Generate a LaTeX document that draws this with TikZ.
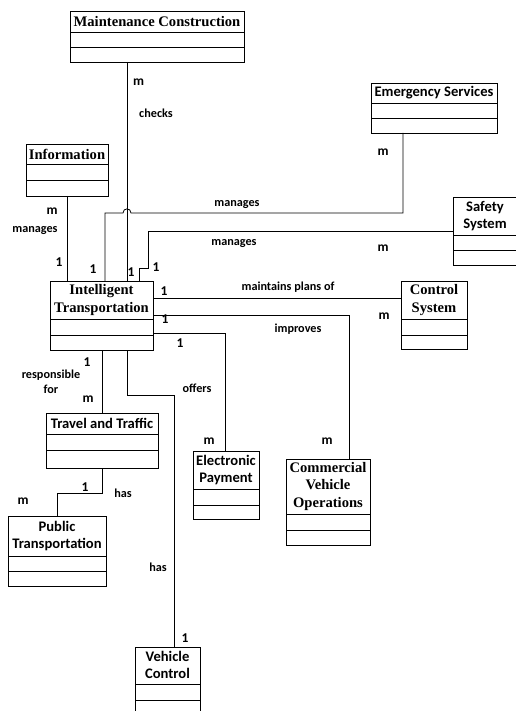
\documentclass[tikz,border=0pt]{standalone}
\usepackage{fontspec}
\setmainfont{Liberation Serif}
\newfontfamily\calfont{Carlito}
\begin{document}
\begin{tikzpicture}[x=1pt,y=-1pt,
  clsbox/.style={draw, rectangle, inner sep=0pt, outer sep=0pt, line width=0.8pt},
  divider/.style={line width=0.8pt},
  conn/.style={line width=0.8pt},
  sertitle/.style={font=\fontsize{14.6}{17.5}\selectfont\bfseries, align=center, inner sep=0pt},
  santitle/.style={font=\calfont\fontsize{14.6}{17.5}\selectfont\bfseries, align=center, inner sep=0pt},
  rel/.style={font=\calfont\fontsize{12.2}{14.5}\selectfont\bfseries, align=center, inner sep=0pt},
  mult/.style={font=\calfont\fontsize{13.5}{15}\selectfont\bfseries, inner sep=0pt}
]
\useasboundingbox (0,0) rectangle (515,711);
\newcommand\umlbox[7]{%
  \node[clsbox, minimum width={#4-#2}, minimum height={#5-#3}] (#1) at ({(#2+#4)/2},{(#3+#5)/2}) {};
  \draw[divider] (#2,#6) -- (#4,#6) (#2,#7) -- (#4,#7);
}
% classes
\umlbox{mc}{70}{11}{244}{62}{32}{47}
\node[sertitle] (mcT) at (157,21.5) {Maintenance Construction};
\umlbox{info}{26}{144}{108}{196}{164}{180}
\node[sertitle] (infoT) at (67,154) {Information};
\umlbox{it}{50}{281}{153}{350}{319}{335}
\node[sertitle] (itT) at (101.5,300) {Intelligent\\Transportation};
\umlbox{es}{371}{83}{497}{133}{103}{118}
\node[santitle] (esT) at (434,93) {Emergency Services};
\umlbox{ss}{453}{197}{517}{265}{235}{250}
\node[santitle] (ssT) at (485,216) {Safety\\System};
\umlbox{cs}{401}{281}{467}{349}{319}{335}
\node[sertitle] (csT) at (434,300) {Control\\System};
\umlbox{cvo}{286}{459}{370}{545}{514}{530}
\node[sertitle] (cvoT) at (328,486) {Commercial\\Vehicle\\Operations};
\umlbox{ep}{193}{451}{259}{519}{489}{505}
\node[santitle] (epT) at (226,470) {Electronic\\Payment};
\umlbox{tt}{46}{413}{158}{468}{434}{450}
\node[santitle] (ttT) at (102,423.5) {Travel and Traffic};
\umlbox{pt}{8}{516}{106}{586}{556}{571}
\node[santitle] (ptT) at (57,536) {Public\\Transportation};
\umlbox{vc}{135}{647}{200}{716}{684}{700}
\node[santitle] (vcT) at (167.5,665) {Vehicle\\Control};
% connectors
\draw[conn] ([xshift=-30pt]mc.south) -- ([xshift=25.5pt]it.north);
\draw[conn] (info.south) -- ([xshift=-34.5pt]it.north);
\draw[conn] ([xshift=-31pt]es.south) -- (403,213) -- (131,213)
  .. controls (131,207.5) and (123,207.5) .. (123,213) -- (105,213)
  -- ([xshift=3.5pt]it.north);
\draw[conn] (ss.west) -- (148,231) -- (148,268) -- (139,268) -- ([xshift=37.5pt]it.north);
\draw[conn] ([yshift=17.5pt]it.east) -- ([yshift=17.5pt]it.east -| cs.west);
\draw[conn] ([yshift=0.5pt]it.east) -| ([xshift=21pt]cvo.north);
\draw[conn] ([yshift=-17.5pt]it.east) -| ([xshift=-1pt]ep.north);
\draw[conn] (it.south -| tt.north) -- (tt.north);
\draw[conn] ([xshift=25.5pt]it.south) -- ++(0,45) -| ([xshift=6.5pt]vc.north);
\draw[conn] (tt.south) -- ++(0,25) -| (pt.north);
% labels
\node[mult] (m1) at (138.5,82) {m};
\node[rel] (r1) at (156,113) {checks};
\node[mult] (m2) at (52,211) {m};
\node[rel] (r2) at (35,231) {manages};
\node[mult] (o2) at (59,262) {1};
\node[rel] (r3) at (237,205) {manages};
\node[mult] (m3) at (383,152) {m};
\node[mult] (o3) at (93,269) {1};
\node[mult] (o1) at (131,272.5) {1};
\node[mult] (o4) at (156,267.5) {1};
\node[rel] (r4) at (234,244) {manages};
\node[mult] (m4) at (383,248) {m};
\node[mult] (o5) at (164,291) {1};
\node[rel] (r5) at (288,287) {maintains plans of};
\node[mult] (m5) at (384,316) {m};
\node[mult] (o6) at (165,319) {1};
\node[rel] (r6) at (298,329) {improves};
\node[mult] (m6) at (327,441) {m};
\node[mult] (o7) at (180,343) {1};
\node[mult] (m7) at (209,441) {m};
\node[mult] (o8) at (87,362) {1};
\node[rel] (r8) at (51,382) {responsible\\for};
\node[mult] (m8) at (88,399) {m};
\node[rel] (r9) at (197,388) {offers};
\node[mult] (o10) at (85,487) {1};
\node[mult] (m10) at (23,501) {m};
\node[rel] (r10) at (123,493) {has};
\node[rel] (r11) at (158,567) {has};
\node[mult] (o11) at (185,638) {1};
\end{tikzpicture}
\end{document}
